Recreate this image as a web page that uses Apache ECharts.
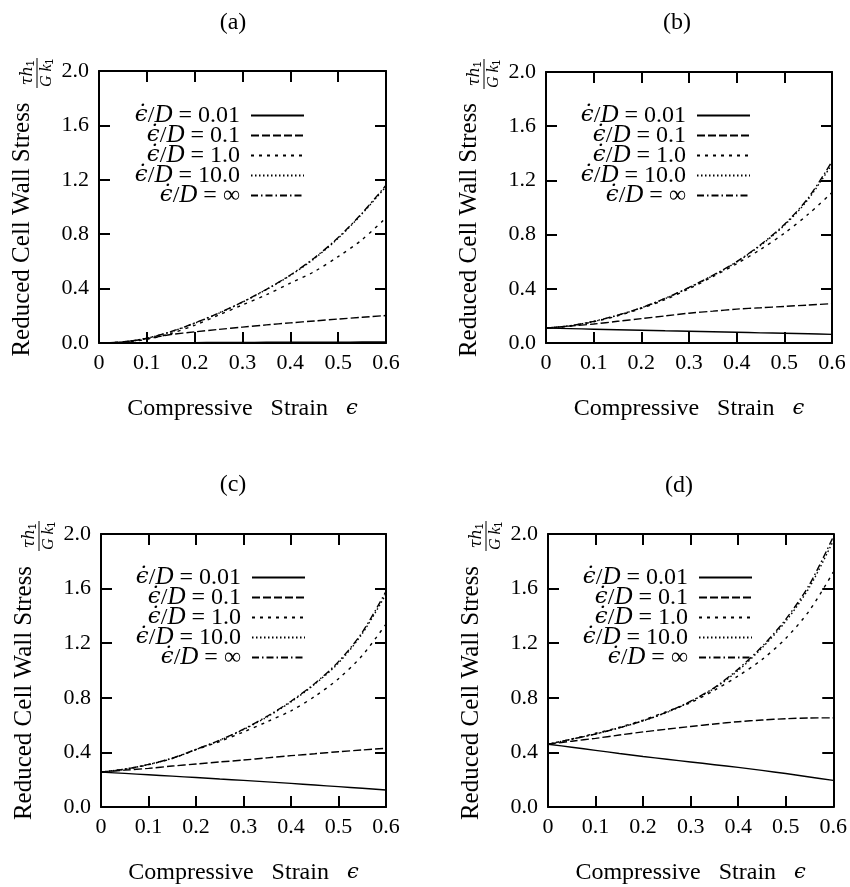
<!DOCTYPE html>
<html>
<head>
<meta charset="utf-8">
<script src="https://cdn.jsdelivr.net/npm/echarts@6/dist/echarts.min.js"></script>
<style>html,body{margin:0;padding:0;background:#fff;}#c{width:850px;height:887px;}</style>
</head>
<body>
<div id="c"></div>
<script>
// ---------- data ----------
const strain = [0, 0.05, 0.1, 0.15, 0.2, 0.25, 0.3, 0.35, 0.4, 0.45, 0.5, 0.55, 0.6];
const xTickLabels = ['0', '0.1', '0.2', '0.3', '0.4', '0.5', '0.6'];
const yTickLabels = ['0.0', '0.4', '0.8', '1.2', '1.6', '2.0'];
const rateLabels = ['ϵ̇/D = 0.01', 'ϵ̇/D = 0.1', 'ϵ̇/D = 1.0', 'ϵ̇/D = 10.0', 'ϵ̇/D = ∞'];
const panelLabels = ['(a)', '(b)', '(c)', '(d)'];
const xAxisTitle = 'Compressive   Strain   ';
const yAxisTitle = 'Reduced Cell Wall Stress';

// panel (a)
const a_r001 = [0, 0, 0.001, 0.002, 0.003, 0.004, 0.004, 0.005, 0.005, 0.006, 0.006, 0.007, 0.007];
const a_r01  = [0, 0.008, 0.032, 0.062, 0.082, 0.1, 0.117, 0.133, 0.148, 0.162, 0.176, 0.189, 0.202];
const a_r1   = [0, 0.006, 0.027, 0.07, 0.13, 0.205, 0.28, 0.355, 0.44, 0.525, 0.635, 0.76, 0.92];
const a_r10  = [0, 0.007, 0.035, 0.082, 0.145, 0.218, 0.3, 0.393, 0.497, 0.62, 0.77, 0.95, 1.15];
const a_rinf = [0, 0.007, 0.036, 0.083, 0.147, 0.22, 0.302, 0.395, 0.5, 0.625, 0.775, 0.955, 1.16];
// panel (b)
const b_r001 = [0.11, 0.106, 0.102, 0.098, 0.094, 0.09, 0.087, 0.083, 0.079, 0.075, 0.072, 0.068, 0.064];
const b_r01  = [0.11, 0.125, 0.14, 0.16, 0.18, 0.2, 0.22, 0.235, 0.25, 0.26, 0.27, 0.28, 0.29];
const b_r1   = [0.11, 0.125, 0.157, 0.2, 0.255, 0.32, 0.4, 0.49, 0.585, 0.69, 0.81, 0.95, 1.11];
const b_r10  = [0.11, 0.127, 0.159, 0.204, 0.259, 0.328, 0.408, 0.497, 0.597, 0.72, 0.868, 1.06, 1.32];
const b_rinf = [0.11, 0.127, 0.16, 0.205, 0.26, 0.33, 0.41, 0.5, 0.6, 0.725, 0.875, 1.07, 1.34];
// panel (c)
const c_r001 = [0.256, 0.246, 0.236, 0.226, 0.216, 0.205, 0.195, 0.184, 0.173, 0.161, 0.149, 0.137, 0.125];
const c_r01  = [0.256, 0.27, 0.283, 0.3, 0.315, 0.33, 0.344, 0.36, 0.376, 0.39, 0.405, 0.418, 0.43];
const c_r1   = [0.256, 0.276, 0.31, 0.355, 0.42, 0.48, 0.55, 0.625, 0.705, 0.81, 0.94, 1.11, 1.34];
const c_r10  = [0.256, 0.277, 0.311, 0.357, 0.421, 0.488, 0.567, 0.66, 0.77, 0.9, 1.055, 1.27, 1.56];
const c_rinf = [0.256, 0.277, 0.312, 0.358, 0.422, 0.49, 0.57, 0.665, 0.775, 0.905, 1.065, 1.28, 1.58];
// panel (d)
const d_r001 = [0.46, 0.438, 0.415, 0.392, 0.37, 0.35, 0.33, 0.31, 0.29, 0.268, 0.245, 0.22, 0.195];
const d_r01  = [0.46, 0.482, 0.503, 0.527, 0.55, 0.57, 0.59, 0.608, 0.625, 0.637, 0.647, 0.652, 0.653];
const d_r1   = [0.46, 0.498, 0.54, 0.584, 0.637, 0.7, 0.765, 0.855, 0.96, 1.08, 1.235, 1.44, 1.72];
const d_r10  = [0.46, 0.497, 0.535, 0.58, 0.631, 0.693, 0.772, 0.87, 1.0, 1.165, 1.36, 1.61, 1.95];
const d_rinf = [0.46, 0.497, 0.535, 0.58, 0.632, 0.695, 0.775, 0.875, 1.01, 1.175, 1.375, 1.63, 1.98];

const panels = [
  [a_r001, a_r01, a_r1, a_r10, a_rinf],
  [b_r001, b_r01, b_r1, b_r10, b_rinf],
  [c_r001, c_r01, c_r1, c_r10, c_rinf],
  [d_r001, d_r01, d_r1, d_r10, d_rinf]
];

// ---------- layout / style ----------
const FONT = 'Liberation Serif';
const gridBoxes = [
  {left: 99, top: 71, width: 287, height: 272},
  {left: 546, top: 72, width: 286, height: 271},
  {left: 101, top: 534, width: 285, height: 273},
  {left: 548, top: 534, width: 286, height: 273}
];
const legendPos = [
  {right: 545, top: 103},
  {right: 99, top: 103},
  {right: 544, top: 565},
  {right: 97, top: 565}
];
const titlePos = [[233, 23], [677, 23], [233, 485], [679, 486]];
const dashTypes = ['solid', [8, 3], [3, 5], [1.5, 2.5], [7, 3, 1.5, 3]];

const italicRich = {
  e: {fontFamily: 'DejaVu Serif', fontStyle: 'italic', fontSize: 23, color: '#000', lineHeight: 14},
  d: {fontFamily: FONT, fontStyle: 'italic', fontSize: 25, color: '#000', lineHeight: 14},
  n: {fontFamily: FONT, fontSize: 24, color: '#000', lineHeight: 14}
};

function legendFmt(name) {
  const parts = name.split('D');
  return '{e|' + parts[0].replace('/', '') + '}{n|/}{d|D}{n|' + parts[1] + ' }';
}

const grid = [], xAxis = [], yAxis = [], series = [], legend = [], graphic = [];

gridBoxes.forEach((g, p) => {
  grid.push(Object.assign({containLabel: false}, g));
  const common = {
    type: 'value', gridIndex: p,
    axisLine: {show: true, onZero: false, lineStyle: {color: '#000', width: 2}},
    axisTick: {show: true, inside: true, length: 11, lineStyle: {color: '#000', width: 2}},
    splitLine: {show: false}
  };
  xAxis.push(Object.assign({}, common, {
    position: 'bottom', min: 0, max: 0.6, interval: 0.1,
    axisLabel: {show: true, margin: 9, fontFamily: FONT, fontSize: 22, color: '#000',
      formatter: v => xTickLabels[Math.round(v / 0.1)]},
    name: xAxisTitle + '{e|ϵ}', nameLocation: 'middle', nameGap: 54,
    nameTextStyle: {fontFamily: FONT, fontSize: 24, color: '#000',
      rich: {e: {fontFamily: 'DejaVu Serif', fontStyle: 'italic', fontSize: 21, color: '#000'}}}
  }));
  yAxis.push(Object.assign({}, common, {
    position: 'left', min: 0, max: 2.0, interval: 0.4,
    axisLabel: {show: true, margin: 10, fontFamily: FONT, fontSize: 22, color: '#000',
      formatter: v => yTickLabels[Math.round(v / 0.4)]},
    name: '{t|' + yAxisTitle + '}{f| }', nameLocation: 'middle', nameGap: 64, nameRotate: 90,
    nameTextStyle: {fontFamily: FONT, fontSize: 25, color: '#000',
      rich: {t: {fontFamily: FONT, fontSize: 25, color: '#000'}, f: {width: 45, fontSize: 25}}}
  }));
  legend.push(Object.assign({
    orient: 'vertical', align: 'right', padding: 0,
    itemWidth: 53, itemHeight: 14, itemGap: -5, selectedMode: false,
    data: rateLabels.slice(),
    formatter: legendFmt,
    itemStyle: {color: 'rgba(0,0,0,0)', borderWidth: 0},
    textStyle: {fontFamily: FONT, fontSize: 24, color: '#000', lineHeight: 14, rich: italicRich}
  }, legendPos[p]));
  // panel label
  graphic.push({type: 'text', x: titlePos[p][0], y: titlePos[p][1],
    style: {text: panelLabels[p], font: '24px "Liberation Serif"', fill: '#000', align: 'center', verticalAlign: 'middle'}});
  // y-axis fraction (tau h1 / G k1), rotated with the axis title
  graphic.push({type: 'group', x: g.left - 62, y: g.top + 2, rotation: Math.PI / 2, children: [
    {type: 'text', x: 0, y: -1, style: {text: 'τh{s|1}', font: 'italic 16px "DejaVu Serif"', fill: '#000',
      align: 'center', verticalAlign: 'bottom', rich: {s: {fontSize: 10, fontStyle: 'normal', fill: '#000', padding: [7, 0, 0, 0]}}}},
    {type: 'line', shape: {x1: -15, y1: 0, x2: 15, y2: 0}, style: {stroke: '#000', lineWidth: 1}},
    {type: 'text', x: 0, y: 1, style: {text: 'G k{s|1}', font: 'italic 16px "Liberation Serif"', fill: '#000',
      align: 'center', verticalAlign: 'top', rich: {s: {fontSize: 10, fontStyle: 'normal', fill: '#000', padding: [7, 0, 0, 0]}}}}
  ]});
});
// mirrored top / right axes for the tick frame
gridBoxes.forEach((g, p) => {
  const common = {
    type: 'value', gridIndex: p,
    axisLine: {show: true, onZero: false, lineStyle: {color: '#000', width: 2}},
    axisTick: {show: true, inside: true, length: 11, lineStyle: {color: '#000', width: 2}},
    axisLabel: {show: false}, splitLine: {show: false}
  };
  xAxis.push(Object.assign({}, common, {position: 'top', min: 0, max: 0.6, interval: 0.1}));
  yAxis.push(Object.assign({}, common, {position: 'right', min: 0, max: 2.0, interval: 0.4}));
});

panels.forEach((curves, p) => {
  curves.forEach((vals, k) => {
    series.push({
      type: 'line', name: rateLabels[k], xAxisIndex: p, yAxisIndex: p,
      data: strain.map((s, i) => [s, vals[i]]),
      symbol: 'none', smooth: 0.3, clip: true,
      lineStyle: {color: '#000', width: 1.4, type: dashTypes[k]},
      itemStyle: {color: '#000'},
      emphasis: {disabled: true}
    });
  });
});

const chart = echarts.init(document.getElementById('c'), null, {renderer: 'canvas'});
chart.setOption({
  animation: false,
  backgroundColor: '#fff',
  grid, xAxis, yAxis, series, legend, graphic,
  tooltip: {show: false}
});
</script>
</body>
</html>
